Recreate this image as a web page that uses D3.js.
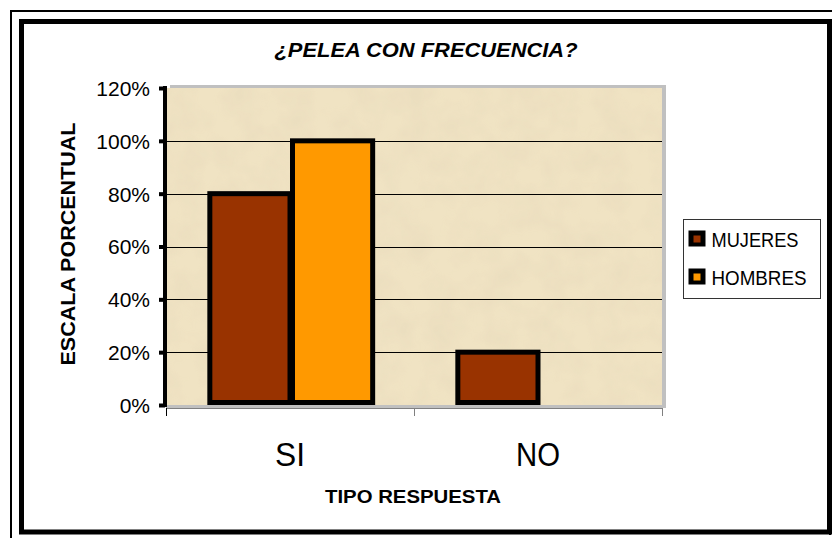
<!DOCTYPE html>
<html>
<head>
<meta charset="utf-8">
<script src="https://cdn.jsdelivr.net/npm/d3@7"></script>
<style>
  html, body { margin: 0; padding: 0; background: #ffffff; }
  svg { display: block; }
  text { font-family: Arial, "Liberation Sans", sans-serif; fill: #000; }
</style>
</head>
<body>
<svg id="chart" width="832" height="538"></svg>
<script>
// ---- data ----
const categories = ["SI", "NO"];
const seriesNames = ["MUJERES", "HOMBRES"];
const mujeres = [0.80, 0.20];
const hombres = [1.00, 0.00];
const yTicks = [0, 0.2, 0.4, 0.6, 0.8, 1.0, 1.2];
const seriesColors = ["#993300", "#ff9900"];
const titleText = "¿PELEA CON FRECUENCIA?";
const yTitle = "ESCALA PORCENTUAL";
const xTitle = "TIPO RESPUESTA";

const seriesValues = [mujeres, hombres];
const rows = categories.map((c, i) => ({
  cat: c,
  vals: seriesNames.map((s, j) => ({ series: s, value: seriesValues[j][i], color: seriesColors[j] }))
}));

const svg = d3.select("#chart");
const W = 832, H = 538;

// ---- frame ----
svg.append("line").attr("x1", 11).attr("x2", 11).attr("y1", 10).attr("y2", H).attr("stroke", "#000").attr("stroke-width", 2);
svg.append("line").attr("x1", 10).attr("x2", W).attr("y1", 11).attr("y2", 11).attr("stroke", "#000").attr("stroke-width", 2);
svg.append("rect").attr("x", 21.5).attr("y", 21.5).attr("width", 808).attr("height", 510.5)
  .attr("fill", "#fff").attr("stroke", "#000").attr("stroke-width", 5);
svg.append("line").attr("x1", 830).attr("x2", 830).attr("y1", 19).attr("y2", 535).attr("stroke", "#000").attr("stroke-width", 2);

// ---- plot geometry ----
const plot = { left: 166, right: 662, top: 88, bottom: 405 };

const y = d3.scaleLinear().domain([0, 1.2]).range([plot.bottom, plot.top]);
const x0 = d3.scaleBand().domain(categories).range([plot.left, plot.right]).paddingInner(0).paddingOuter(0);
const x1 = d3.scaleBand().domain(seriesNames).range([0, x0.bandwidth()]).paddingInner(0).paddingOuter(0.5);

// ---- texture ----
const defs = svg.append("defs");
const filt = defs.append("filter").attr("id", "paper").attr("x", 0).attr("y", 0).attr("width", "100%").attr("height", "100%");
filt.append("feTurbulence").attr("type", "fractalNoise").attr("baseFrequency", "0.035").attr("numOctaves", 3).attr("seed", 4).attr("result", "noise");
filt.append("feColorMatrix").attr("in", "noise").attr("type", "matrix")
  .attr("values", "0 0 0 0 0.80  0 0 0 0 0.70  0 0 0 0 0.50  0 0 0 -1.1 0.75").attr("result", "tint");
filt.append("feComposite").attr("in", "tint").attr("in2", "SourceGraphic").attr("operator", "in");

// 3D wall shading (gray)
svg.append("rect").attr("x", plot.left + 4).attr("y", plot.top - 3).attr("width", plot.right - plot.left)
  .attr("height", plot.bottom - plot.top + 6).attr("fill", "#c0c0c0");
svg.append("rect").attr("x", plot.left).attr("y", plot.top).attr("width", plot.right - plot.left)
  .attr("height", plot.bottom - plot.top).attr("fill", "#f0e3c3");
svg.append("rect").attr("x", plot.left).attr("y", plot.top).attr("width", plot.right - plot.left)
  .attr("height", plot.bottom - plot.top).attr("fill", "#f0e3c3").attr("filter", "url(#paper)").attr("opacity", 0.9);

// gridlines
svg.append("g").selectAll("line").data(yTicks.filter(t => t > 0 && t < 1.2)).join("line")
  .attr("x1", plot.left).attr("x2", plot.right)
  .attr("y1", d => Math.round(y(d)) + 0.5).attr("y2", d => Math.round(y(d)) + 0.5)
  .attr("stroke", "#000").attr("stroke-width", 1);

// floor
svg.append("rect").attr("x", plot.left).attr("y", plot.bottom).attr("width", plot.right - plot.left + 4)
  .attr("height", 3).attr("fill", "#c0c0c0");

// ---- bars ----
const groups = svg.append("g").selectAll("g").data(rows).join("g")
  .attr("transform", d => `translate(${x0(d.cat)},0)`);
groups.selectAll("rect").data(d => d.vals.filter(v => v.value > 0)).join("rect")
  .attr("x", d => x1(d.series) + 2.5)
  .attr("y", d => y(d.value))
  .attr("width", x1.bandwidth() - 2.5)
  .attr("height", d => y(0) - y(d.value) - 2.5)
  .attr("fill", d => d.color)
  .attr("stroke", "#000").attr("stroke-width", 5);

// ---- x axis ----
const xAxisG = svg.append("g");
xAxisG.append("line").attr("x1", plot.left).attr("x2", plot.right).attr("y1", plot.bottom + 3.5).attr("y2", plot.bottom + 3.5)
  .attr("stroke", "#808080").attr("stroke-width", 1);
const xTickPos = categories.map(c => x0(c)).concat([plot.right]);
xAxisG.selectAll("line.tk").data(xTickPos).join("line").attr("class", "tk")
  .attr("x1", d => d + 0.5).attr("x2", d => d + 0.5).attr("y1", plot.bottom + 3).attr("y2", plot.bottom + 11)
  .attr("stroke", (d, i) => i === 0 ? "#000" : "#808080").attr("stroke-width", 1);
xAxisG.selectAll("text").data(categories).join("text")
  .attr("x", d => x0(d) + x0.bandwidth() / 2)
  .attr("y", 466)
  .attr("text-anchor", "middle")
  .attr("font-size", 33)
  .attr("textLength", d => d === "SI" ? 30 : 44)
  .attr("lengthAdjust", "spacingAndGlyphs")
  .text(d => d);

// ---- y axis ----
const yAxis = d3.axisLeft(y).tickValues(yTicks).tickSize(6).tickFormat(d3.format(".0%"));
const yAxisG = svg.append("g").attr("transform", `translate(${plot.left - 1},0)`).call(yAxis);
yAxisG.select(".domain").attr("stroke", "#000").attr("stroke-width", 4).attr("d", `M0,${plot.top - 2}V${plot.bottom + 2}`);
yAxisG.selectAll(".tick line").attr("stroke", "#000").attr("stroke-width", 4);
yAxisG.selectAll(".tick text").attr("font-size", 21).attr("x", -15).attr("dy", "0.35em")
  .attr("font-family", "Arial, 'Liberation Sans', sans-serif").attr("fill", "#000");

// ---- titles ----
svg.append("text").attr("x", 426).attr("y", 57).attr("text-anchor", "middle")
  .attr("font-size", 21).attr("font-weight", "bold").attr("font-style", "italic")
  .attr("textLength", 303).attr("lengthAdjust", "spacingAndGlyphs")
  .text(titleText);

svg.append("text").attr("transform", "translate(75,244) rotate(-90)").attr("text-anchor", "middle")
  .attr("font-size", 21).attr("font-weight", "bold")
  .attr("textLength", 243).attr("lengthAdjust", "spacingAndGlyphs")
  .text(yTitle);

svg.append("text").attr("x", 413).attr("y", 503).attr("text-anchor", "middle")
  .attr("font-size", 19).attr("font-weight", "bold")
  .attr("textLength", 176).attr("lengthAdjust", "spacingAndGlyphs")
  .text(xTitle);

// ---- legend ----
const leg = svg.append("g").attr("transform", "translate(683.5,219.5)");
leg.append("rect").attr("width", 137).attr("height", 79).attr("fill", "#fff").attr("stroke", "#333").attr("stroke-width", 1);
const items = leg.selectAll("g").data(seriesNames.map((s, i) => ({ s, c: seriesColors[i] }))).join("g")
  .attr("transform", (d, i) => `translate(5,${11 + i * 38})`);
items.append("rect").attr("width", 17).attr("height", 16).attr("fill", "#000");
items.append("rect").attr("x", 5).attr("y", 5).attr("width", 7).attr("height", 7).attr("fill", d => d.c);
items.append("text").attr("x", 23).attr("y", 16).attr("font-size", 20)
  .attr("textLength", d => d.s === "MUJERES" ? 87 : 95).attr("lengthAdjust", "spacingAndGlyphs")
  .text(d => d.s);
</script>
</body>
</html>
